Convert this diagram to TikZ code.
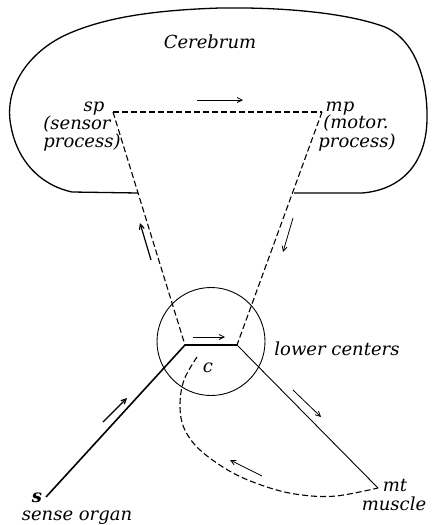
\documentclass[tikz,border=0pt]{standalone}
\usepackage{fontspec}
\usetikzlibrary{arrows.meta}
\newfontfamily\lblfont{DejaVu Serif}
\tikzset{
  lbl/.style={font=\lblfont\itshape\fontsize{18}{16}\selectfont, inner sep=0pt, anchor=base},
  outline/.style={line width=1.3pt, line join=round},
  nerve/.style={line width=0.9pt},
  thicknerve/.style={line width=1.6pt},
  dashnerve/.style={line width=1.1pt, dash pattern=on 6pt off 3pt},
  flow/.style={line width=0.8pt, -{Straight Barb[length=5pt,width=5pt]}},
}
\begin{document}
\begin{tikzpicture}[x=1pt,y=-1pt]
\useasboundingbox (0,0) rectangle (432,525);
% cerebrum outline
\draw[outline] (138,193) -- (72,192)
  .. controls (40,185) and (15,160) .. (10,120)
  .. controls (6,85) and (30,50) .. (70,33)
  .. controls (110,16) and (160,10) .. (220,8)
  .. controls (290,7) and (350,14) .. (385,27)
  .. controls (415,40) and (428,80) .. (427,120)
  .. controls (426,165) and (400,190) .. (362,193)
  -- (294,193);
% points
\coordinate (sp) at (113,112);
\coordinate (mp) at (322,112);
\coordinate (jl) at (185,345);
\coordinate (jr) at (237,345);
\coordinate (s) at (46,497);
\coordinate (mt) at (378,488);
\coordinate (cs) at (197,357);
% lower centers circle
\node[draw, circle, line width=0.9pt, minimum size=108pt, inner sep=0pt] (circ) at (211,341.5) {};
% dashed paths
\draw[dashnerve] (sp) -- (mp);
\draw[dashnerve] (sp) -- (jl);
\draw[dashnerve] (mp) -- (jr);
\draw[dashnerve] plot[smooth, tension=0.6] coordinates {(cs) (184,380) (180,405) (184,428) (200,450) (233,473) (270,488) (302,495) (336,496) (mt)};
% solid paths
\draw[thicknerve] (s) -- (jl);
\draw[nerve, line width=1.2pt] (jl) -- (jr);
\draw[nerve] (jr) -- (mt);
% flow arrows
\draw[flow] (197,100) -- (243,100);
\draw[flow] (193,337) -- (225,337);
\draw[flow, line width=1.2pt] (151,260) -- (140,223);
\draw[flow] (293,218) -- (283,252);
\draw[flow, line width=1.2pt] (103,422) -- (127,398);
\draw[flow] (293,390) -- (321,417);
\draw[flow] (262,476) -- (230,460);
% labels
\node[lbl] (cerebrum) at (210,48) {Cerebrum};
\node[lbl] (splbl) at (94,111) {sp};
\node[lbl] (sensor) at (77,129) {(sensor};
\node[lbl] (sproc) at (82,147) {process)};
\node[lbl] (mplbl) at (340,111) {mp};
\node[lbl] (motor) at (356,128) {(motor.};
\node[lbl] (mproc) at (357,147) {process)};
\node[lbl] (lower) at (337,355) {lower centers};
\node[lbl] (clbl) at (208,372) {c};
\node[lbl, font=\lblfont\bfseries\itshape\fontsize{18}{16}\selectfont] (slbl) at (37,502) {s};
\node[lbl] (sense) at (77,520) {sense organ};
\node[lbl] (mtlbl) at (395,491) {mt};
\node[lbl] (muscle) at (394,510) {muscle};
\end{tikzpicture}
\end{document}
